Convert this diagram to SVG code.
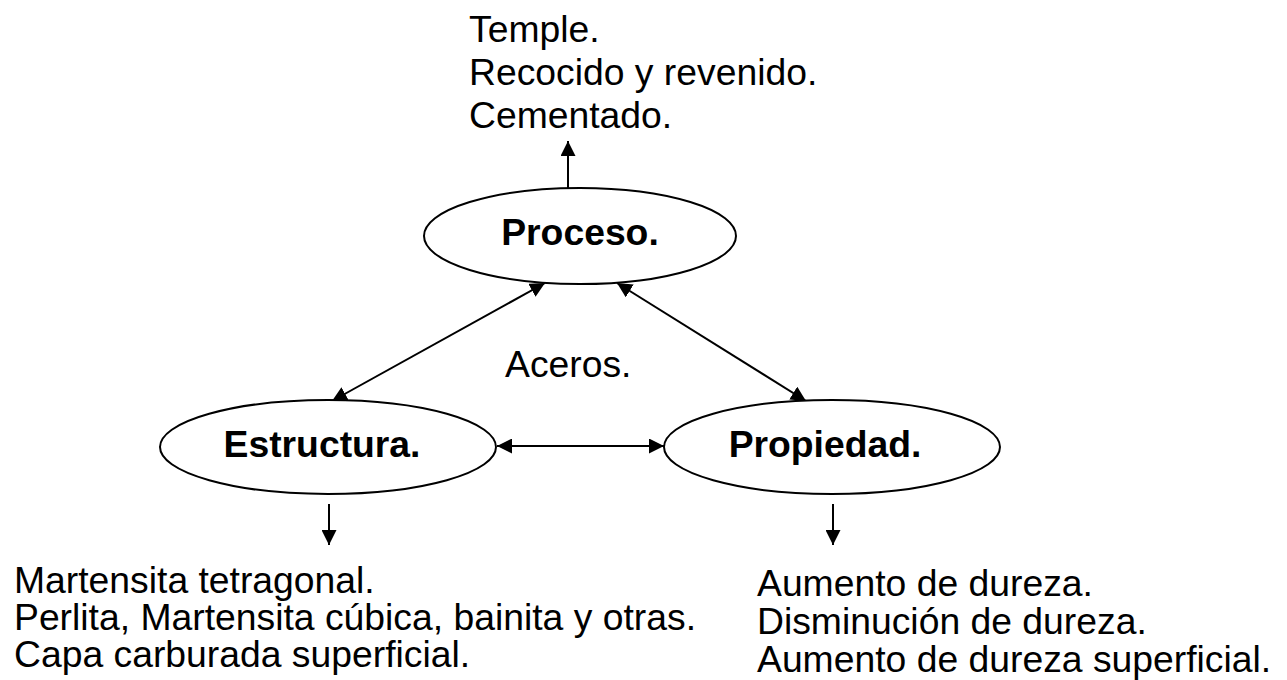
<svg xmlns="http://www.w3.org/2000/svg" width="1287" height="680" viewBox="0 0 1287 680">
  <style>
    .t { font-family: "Liberation Sans", Arial, sans-serif; font-size: 37.3px; fill: #000; }
    .b { font-weight: bold; text-anchor: middle; }
    .node { fill: #fff; stroke: #000; stroke-width: 2; }
    .con { stroke: #000; stroke-width: 2; fill: none; }
  </style>
  <defs>
    <marker id="ah" markerWidth="15" markerHeight="15" refX="15" refY="7.5" orient="auto-start-reverse" markerUnits="userSpaceOnUse">
      <path d="M0,0 L15,7.5 L0,15 z" fill="#000"/>
    </marker>
  </defs>
  <rect width="1287" height="680" fill="#fff"/>
  <g id="connectors">
    <line class="con" x1="568" y1="188" x2="568" y2="141" marker-end="url(#ah)"/>
    <line class="con" x1="545" y1="283" x2="332" y2="401" marker-start="url(#ah)" marker-end="url(#ah)"/>
    <line class="con" x1="617" y1="283" x2="806" y2="401" marker-start="url(#ah)" marker-end="url(#ah)"/>
    <line class="con" x1="497" y1="446" x2="664" y2="446" marker-start="url(#ah)" marker-end="url(#ah)"/>
    <line class="con" x1="329" y1="504" x2="329" y2="545" marker-end="url(#ah)"/>
    <line class="con" x1="833" y1="504" x2="833" y2="545" marker-end="url(#ah)"/>
  </g>
  <g id="proceso">
    <ellipse class="node" cx="580" cy="236" rx="156" ry="48"/>
    <text class="t b" x="580" y="245">Proceso.</text>
  </g>
  <g id="estructura">
    <ellipse class="node" cx="328" cy="447" rx="168" ry="47"/>
    <text class="t b" x="322" y="457">Estructura.</text>
  </g>
  <g id="propiedad">
    <ellipse class="node" cx="832" cy="447" rx="168" ry="47"/>
    <text class="t b" x="825" y="457">Propiedad.</text>
  </g>
  <g id="labels">
    <text class="t" x="469" y="42">Temple.</text>
    <text class="t" x="469" y="85">Recocido y revenido.</text>
    <text class="t" x="469" y="128">Cementado.</text>
    <text class="t" x="505" y="377">Aceros.</text>
    <text class="t" x="14" y="593">Martensita tetragonal.</text>
    <text class="t" x="14" y="630">Perlita, Martensita cúbica, bainita y otras.</text>
    <text class="t" x="14" y="667">Capa carburada superficial.</text>
    <text class="t" x="757" y="596">Aumento de dureza.</text>
    <text class="t" x="757" y="634">Disminución de dureza.</text>
    <text class="t" x="757" y="672">Aumento de dureza superficial.</text>
  </g>
</svg>
